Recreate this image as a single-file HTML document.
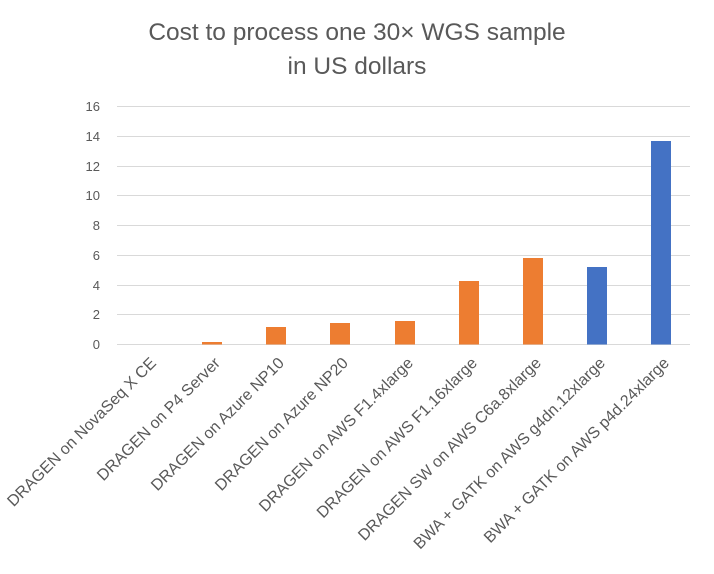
<!DOCTYPE html>
<html><head><style>
body{margin:0;background:#fff;}
</style></head><body>
<svg width="714" height="569" xmlns="http://www.w3.org/2000/svg" font-family="Liberation Sans, sans-serif">
<rect width="714" height="569" fill="#fff"/>
<text x="357" y="40" text-anchor="middle" font-size="24.5" fill="#595959">Cost to process one 30× WGS sample</text>
<text x="357" y="74" text-anchor="middle" font-size="24.5" fill="#595959">in US dollars</text>
<g stroke="#d9d9d9" stroke-width="1">
<line x1="117" x2="690" y1="106.5" y2="106.5"/>
<line x1="117" x2="690" y1="136.5" y2="136.5"/>
<line x1="117" x2="690" y1="166.5" y2="166.5"/>
<line x1="117" x2="690" y1="195.5" y2="195.5"/>
<line x1="117" x2="690" y1="225.5" y2="225.5"/>
<line x1="117" x2="690" y1="255.5" y2="255.5"/>
<line x1="117" x2="690" y1="285.5" y2="285.5"/>
<line x1="117" x2="690" y1="314.5" y2="314.5"/>
<line x1="117" x2="690" y1="344.5" y2="344.5"/>
</g>
<g font-size="13" fill="#595959" text-anchor="end">
<text x="100" y="111">16</text><text x="100" y="141">14</text><text x="100" y="171">12</text>
<text x="100" y="200">10</text><text x="100" y="230">8</text><text x="100" y="260">6</text>
<text x="100" y="290">4</text><text x="100" y="319">2</text><text x="100" y="349">0</text>
</g>
<g fill="#ED7D31">
<rect x="202" y="342" width="20" height="2.5"/>
<rect x="266" y="327" width="20" height="17.5"/>
<rect x="330" y="323" width="20" height="21.5"/>
<rect x="395" y="321" width="20" height="23.5"/>
<rect x="459" y="281" width="20" height="63.5"/>
<rect x="523" y="258" width="20" height="86.5"/>
</g>
<g fill="#4472C4">
<rect x="587" y="267" width="20" height="77.5"/>
<rect x="651" y="141" width="20" height="203.5"/>
</g>
<g font-size="16" fill="#595959" text-anchor="end">
<text transform="translate(157,364) rotate(-45)">DRAGEN on NovaSeq X CE</text>
<text transform="translate(221,364) rotate(-45)">DRAGEN on P4 Server</text>
<text transform="translate(285,364) rotate(-45)">DRAGEN on Azure NP10</text>
<text transform="translate(349,364) rotate(-45)">DRAGEN on Azure NP20</text>
<text transform="translate(414,364) rotate(-45)">DRAGEN on AWS F1.4xlarge</text>
<text transform="translate(478,364) rotate(-45)">DRAGEN on AWS F1.16xlarge</text>
<text transform="translate(542,364) rotate(-45)">DRAGEN SW on AWS C6a.8xlarge</text>
<text transform="translate(606,364) rotate(-45)">BWA + GATK on AWS g4dn.12xlarge</text>
<text transform="translate(670,364) rotate(-45)">BWA + GATK on AWS p4d.24xlarge</text>
</g>
</svg>
</body></html>
